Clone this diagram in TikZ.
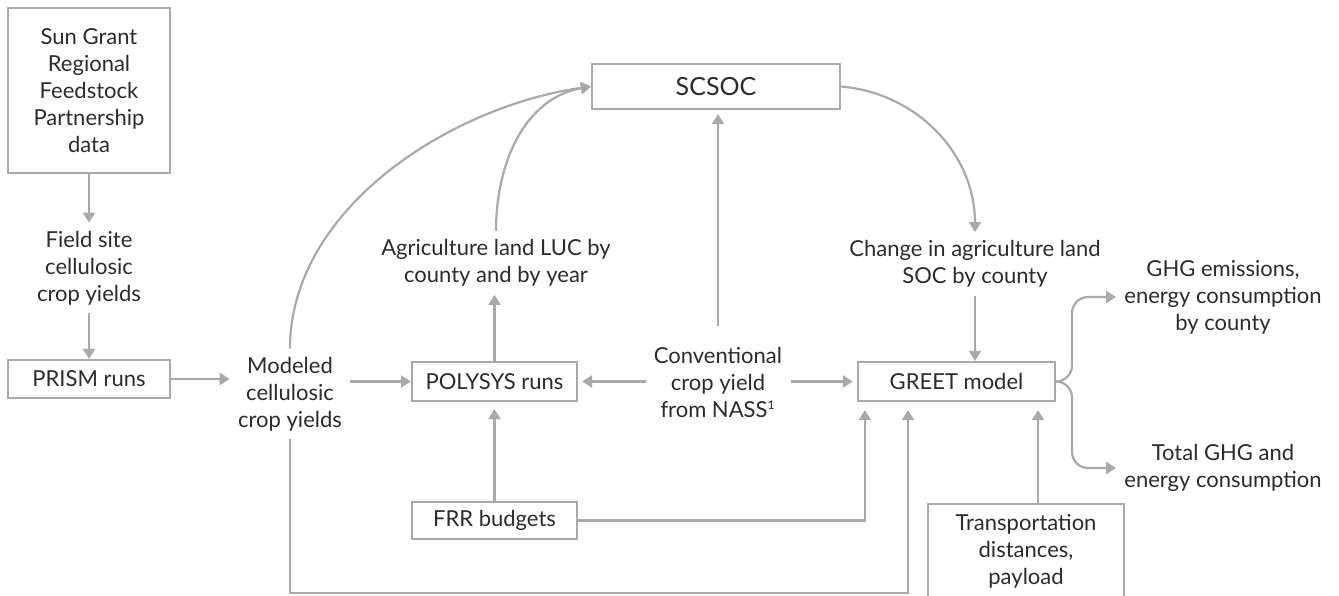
\documentclass[tikz,border=0pt]{standalone}
\usepackage{fontspec}
\setmainfont{Lato}
\usepackage{xcolor}
\usepackage{tikz}
\usetikzlibrary{positioning,calc,arrows.meta}
\definecolor{linegray}{HTML}{A7A9AC}
\definecolor{textgray}{HTML}{2B2B2B}
\tikzset{
  box/.style={draw=linegray,line width=1.1pt,align=center,text=textgray,minimum height=19.5pt,inner sep=2pt},
  txt/.style={align=center,text=textgray,inner sep=4pt},
  arr/.style={draw=linegray,line width=1.1pt,-{Triangle[length=5pt,width=6pt]}},
}

\begin{document}
\begin{tikzpicture}[x=0.5pt,y=-0.5pt,font=\fontsize{11}{13.5}\selectfont]
  \useasboundingbox (0,0) rectangle (1339,595);

  \node[box,minimum width=81pt,minimum height=82.5pt] (sungrant) at (89,90.5) {Sun Grant\\Regional\\Feedstock\\Partnership\\data};
  \node[txt] (field) at (89,268) {Field site\\cellulosic\\crop yields};
  \node[box,minimum width=81pt,minimum height=19pt] (prism) at (89,379) {PRISM runs};
  \node[txt] (modeled) at (290,394) {Modeled\\cellulosic\\crop yields};
  \node[box,minimum width=82.5pt] (polysys) at (494.5,381.5) {POLYSYS runs};
  \node[box,minimum width=82.5pt,minimum height=18.5pt] (frr) at (494.5,520.5) {FRR budgets};
  \node[txt] (agri) at (496,263) {Agriculture land LUC by\\county and by year};
  \node[box,minimum width=124pt,minimum height=22.5pt,font=\fontsize{12.5}{15}\selectfont] (scsoc) at (716,86.5) {SCSOC};
  \node[txt] (conv) at (718,382) {Conventional\\crop yield\\from NASS\textsuperscript{\fontsize{6}{6}\selectfont 1}};
  \node[box,minimum width=98.5pt] (greet) at (956.5,381.5) {GREET model};
  \node[txt] (change) at (975,264) {Change in agriculture land\\SOC by county};
  \node[box,minimum width=98pt,minimum height=47pt] (transport) at (1026,551) {Transportation\\distances,\\payload};
  \node[txt] (ghg) at (1223,297) {GHG emissions,\\energy consumption\\by county};
  \node[txt] (total) at (1223,468) {Total GHG and\\energy consumption};

  \coordinate (split) at (1072,381);
  \coordinate (bend) at (908,593);

  \draw[arr] (sungrant) -- (field);
  \draw[arr] (field) -- (prism);
  \draw[arr] (prism.east) -- (prism.east -| modeled.west);
  \draw[arr] (modeled.east |- polysys) -- (polysys.west);
  \draw[arr,shorten >=2pt] (conv.west |- polysys) -- (polysys.east);
  \draw[arr,shorten >=2pt] (conv.east |- greet) -- (greet.west);
  \draw[arr] (polysys.north) -- (polysys.north |- agri.south);
  \draw[arr,shorten >=3.5pt] (frr.north) -- (polysys.south);
  \draw[arr] (agri.north) to[out=90,in=190] (scsoc.west);
  \draw[arr] (modeled.north) to[out=90,in=188,looseness=0.9] (scsoc.west);
  \draw[arr,shorten <=6pt,shorten >=2pt] (conv.north) -- (conv.north |- scsoc.south);
  \draw[arr] (scsoc.east) to[out=-5,in=90] (change.north);
  \draw[arr] (change.south) -- (change.south |- greet.north);
  \draw[arr,shorten >=4pt] (frr.east) -| ($(greet.south west)+(8,0)$);
  \draw[arr,shorten >=4pt] (modeled.south) |- (bend) -- (bend |- greet.south);
  \draw[arr,shorten >=4pt] ([xshift=6pt]transport.north) -- ([xshift=6pt]transport.north |- greet.south);
  \draw[arr,rounded corners=8pt] (greet.east) -| (split |- ghg.west) -- (ghg.west);
  \draw[arr,rounded corners=8pt] (greet.east) -| (split |- total.west) -- (total.west);
\end{tikzpicture}
\end{document}
